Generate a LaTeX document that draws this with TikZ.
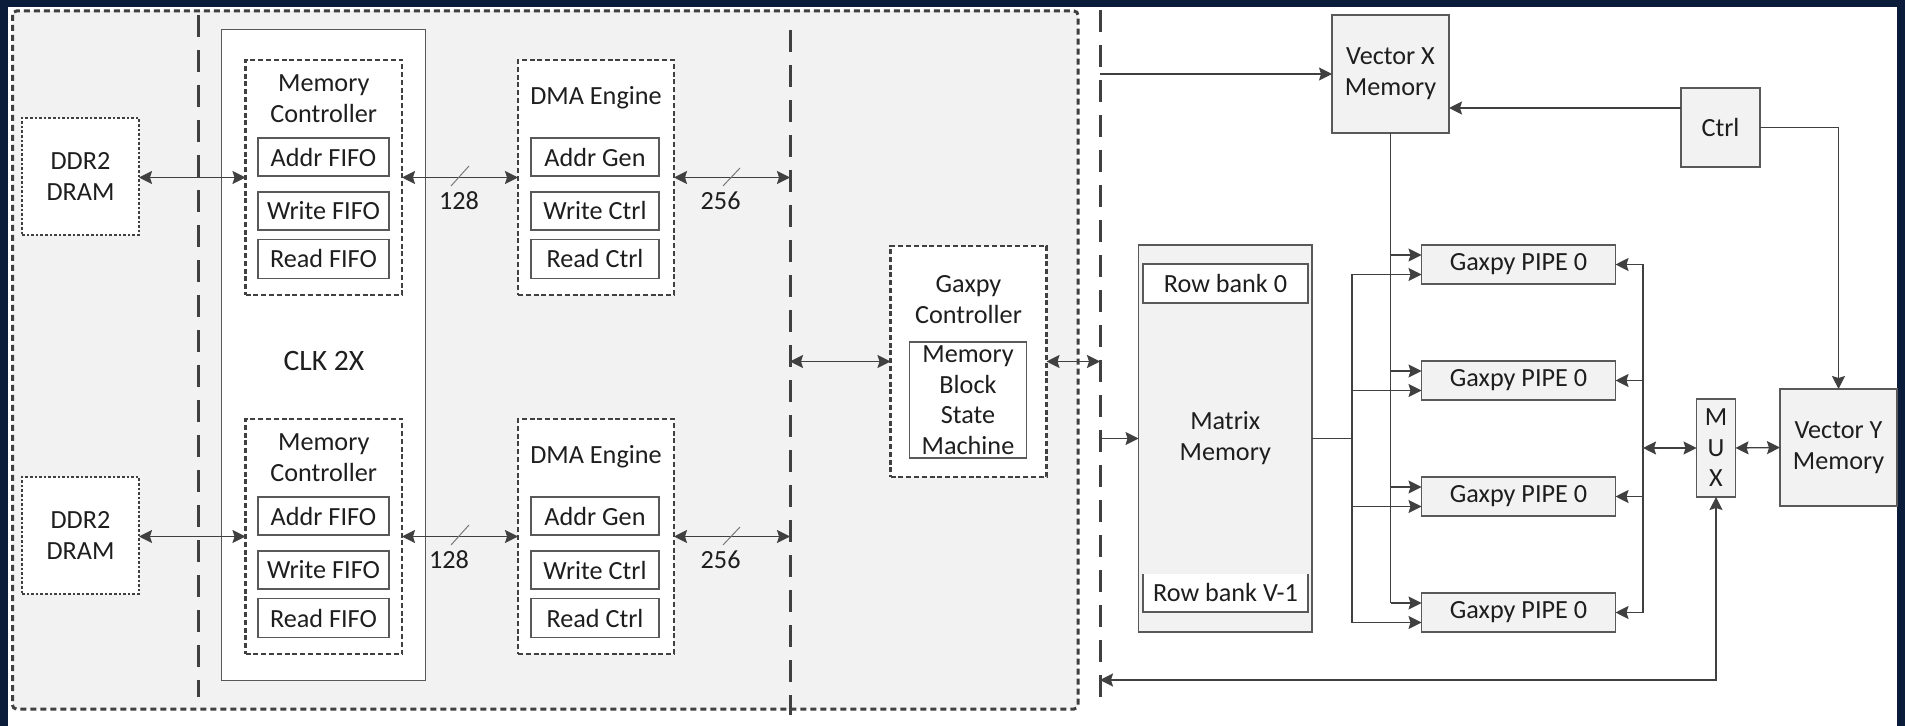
\documentclass[tikz,border=0pt]{standalone}
\usepackage{fontspec}
\setmainfont{Carlito}
\usetikzlibrary{arrows.meta,calc}
\definecolor{cFrame}{RGB}{10,28,58}
\definecolor{cGrey}{RGB}{242,242,242}
\definecolor{cEdge}{RGB}{89,89,89}
\definecolor{cInk}{RGB}{64,64,64}
\definecolor{cTxt}{RGB}{30,30,30}
\tikzset{
  every node/.style={font=\fontsize{13.1}{15.5}\selectfont, text=cTxt, inner sep=0pt, outer sep=0pt},
  solidbox/.style={draw=cEdge, line width=0.65pt},
  greybox/.style={solidbox, fill=cGrey},
  whitebox/.style={solidbox, fill=white},
  dashbox/.style={draw=cInk, line width=1.3pt, dash pattern=on 2.5pt off 1.4pt, fill=white},
  dotbox/.style={draw=cInk, line width=0.65pt, dash pattern=on 1.3pt off 1pt, fill=white},
  longdash/.style={draw=cInk, line width=1.5pt, dash pattern=on 11pt off 6.5pt},
  wire/.style={draw=cInk, line width=0.65pt},
  tipa/.tip={Stealth[length=6.5pt,width=6.5pt,inset=1pt]},
  arrA/.style={draw=cInk, line width=0.85pt, -tipa},
  darrA/.style={draw=cInk, line width=0.85pt, tipa-tipa},
  arrB/.style={draw=cInk, line width=0.65pt, -tipa},
  darrB/.style={draw=cInk, line width=0.65pt, tipa-tipa},
  slash/.style={draw=cInk!70, line width=0.5pt}
}
\begin{document}
\begin{tikzpicture}[x=0.5pt,y=-0.5pt]
\useasboundingbox (0,0) rectangle (1905,726);
\fill[cFrame] (0,0) rectangle (1905,726);
\fill[white] (8,7) rectangle (1897,726);
% grey region
\draw[fill=cGrey, draw=cInk, line width=1.5pt, dash pattern=on 3pt off 2pt, rounded corners=2pt] (12.5,11) rectangle (1078,709);
% long dash separators
\draw[longdash] (198,15) -- (198,697);
\draw[longdash] (790,30) -- (790,715);
\draw[longdash] (1100,10) -- (1100,697);
% CLK 2X
\node[whitebox, line width=0.5pt, minimum width=102pt, minimum height=325pt] (clk) at (323,355) {};
\node[font=\fontsize{14.8}{17}\selectfont] (clkl) at (324,361) {CLK 2X};
% two channels
\foreach \t/\s/\lx in {60/A/459,419/B/449}{
  \node[dotbox, minimum width=58.5pt, minimum height=58.5pt, align=center] (ddr\s) at (80.5,\t+116.5) {DDR2\\DRAM};
  \node[dashbox, minimum width=78.25pt, minimum height=117.5pt] (mc\s) at (323.75,\t+117.5) {};
  \node[align=center] (mct\s) at (323.75,\t+39) {Memory\\Controller};
  \node[whitebox, minimum width=65.5pt, minimum height=19pt] (mca\s) at (323.5,\t+97) {Addr FIFO};
  \node[whitebox, minimum width=65.5pt, minimum height=19pt] (mcw\s) at (323.5,\t+151) {Write FIFO};
  \node[whitebox, minimum width=65.5pt, minimum height=19.5pt] (mcr\s) at (323.5,\t+199) {Read FIFO};
  \node[dashbox, minimum width=78pt, minimum height=117.5pt] (dma\s) at (596,\t+117.5) {};
  \node (dmat\s) at (596,\t+38) {DMA Engine};
  \node[whitebox, minimum width=64pt, minimum height=19pt] (dmaa\s) at (595,\t+97) {Addr Gen};
  \node[whitebox, minimum width=64pt, minimum height=19pt] (dmaw\s) at (595,\t+151) {Write Ctrl};
  \node[whitebox, minimum width=64pt, minimum height=19.5pt] (dmar\s) at (595,\t+199) {Read Ctrl};
  \coordinate (dd\s) at (790,\t+117.5);
  \draw[darrA] (ddr\s.east |- mc\s.west) -- (mc\s.west);
  \draw[darrA] (mc\s.east) -- (dma\s.west);
  \draw[darrA] (dma\s.east) -- (dd\s);
  \draw[slash] (469,\t+106) -- (451,\t+126);
  \draw[slash] (740,\t+108) -- (723,\t+126);
  \node (w128\s) at (\lx,\t+141) {128};
  \node (w256\s) at (720.6,\t+141) {256};
}
% Gaxpy controller
\node[dashbox, minimum width=78pt, minimum height=115.5pt] (gc) at (968.5,361.5) {};
\node[align=center] (gct) at (968.5,300) {Gaxpy\\Controller};
\node[whitebox, minimum width=58.5pt, minimum height=58pt, align=center, font=\fontsize{13.1}{15.25}\selectfont] (mbsm) at (968,400) {Memory\\Block\\State\\Machine};
\coordinate (dg2) at (790,361.5);
\coordinate (dg3) at (1100,361.5);
\draw[darrA] (dg2) -- (gc.west);
\draw[darrA] (gc.east) -- (dg3);
% right side
\node[greybox, minimum width=58.5pt, minimum height=59pt, align=center] (vx) at (1390.5,74) {Vector X\\Memory};
\coordinate (dx3) at (1100,74);
\draw[arrB] (dx3) -- (vx.west);
\node[greybox, minimum width=39.5pt, minimum height=39.5pt] (ctrl) at (1720.5,127.5) {Ctrl};
\coordinate (c1) at ([yshift=9.75pt]ctrl.west);
\draw[arrB] (c1) -- (c1 -| vx.east);
\node[greybox, minimum width=58.5pt, minimum height=58.5pt, align=center] (vy) at (1838.5,447.5) {Vector Y\\Memory};
\draw[arrB] (ctrl.east) -| (vy.north);
\node[greybox, minimum width=19.5pt, minimum height=49pt, align=center, font=\fontsize{13.1}{15.25}\selectfont] (mux) at (1716,448) {M\\U\\X};
\draw[darrB] (mux.east) -- (vy.west);
% matrix memory
\node[greybox, minimum width=86.75pt, minimum height=193.5pt, align=center] (mm) at (1225.25,438.5) {Matrix\\Memory};
\node[whitebox, minimum width=82.5pt, minimum height=19.5pt] (rb0) at (1225.5,283.5) {Row bank 0};
\node[fill=white, minimum width=82.5pt, minimum height=19pt] (rbv) at (1225.5,593) {Row bank V-1};
\draw[cEdge, line width=0.65pt] (rbv.north west) -- (rbv.south west) -- (rbv.south east) -- (rbv.north east);
\coordinate (dm3) at (1100,438.5);
\draw[arrB] (dm3) -- (mm.west);
% pipes
\foreach \i/\y in {1/264.5,2/380.5,3/496.5,4/612.5}{
  \node[greybox, minimum width=97pt, minimum height=19.5pt] (p\i) at (1518.5,\y) {Gaxpy PIPE 0};
  \coordinate (ph\i) at ([yshift=4.75pt]p\i.west);
  \coordinate (pl\i) at ([yshift=-5pt]p\i.west);
}
\coordinate (lb) at (1352,438.5);
\coordinate (rb) at (1643,448);
\draw[wire] (mm.east) -- (lb);
\draw[wire] (lb |- pl1) -- (lb |- pl4);
\draw[wire] (vx.south) -- (vx.south |- ph4);
\draw[wire] (rb |- p1.east) -- (rb |- p4.east);
\foreach \i in {1,2,3,4}{
  \draw[arrB] (ph\i -| vx.south) -- (ph\i);
  \draw[arrB] (pl\i -| lb) -- (pl\i);
  \draw[arrB] (rb |- p\i.east) -- (p\i.east);
}
\draw[darrB] (rb) -- (mux.west);
% feedback
\coordinate (fb) at (1100,680);
\draw[darrB] (fb) -- (fb -| mux.south) -- (mux.south);
\end{tikzpicture}
\end{document}
